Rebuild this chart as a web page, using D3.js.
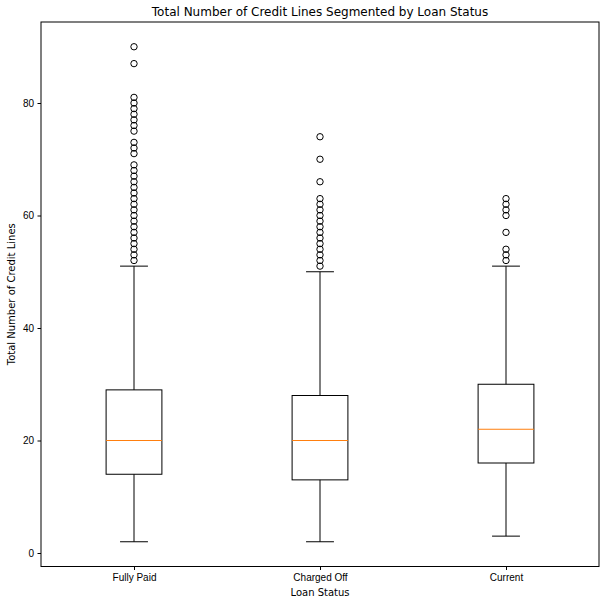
<!DOCTYPE html>
<html lang="en">
<head>
<meta charset="UTF-8" />
<title>Total Number of Credit Lines Segmented by Loan Status</title>
<script src="https://d3js.org/d3.v7.min.js"></script>
<style>
    body { margin: 0; background: #fff; }
    svg { display: block; font-family: "DejaVu Sans", sans-serif; }
    .tick text { font-size: 10px; fill: #000; }
    .tick line, .domain { stroke: #000; }
</style>
</head>
<body>
<svg width="606" height="604"></svg>
<script>
    const categories = ["Fully Paid", "Charged Off", "Current"];
    // five-number summaries: whisker low, Q1, median, Q3, whisker high
    const whiskerLow = [2, 2, 3];
    const q1 = [14, 13, 16];
    const median = [20, 20, 22];
    const q3 = [29, 28, 30];
    const whiskerHigh = [51, 50, 51];
    const outliers = [
        [52, 53, 54, 55, 56, 57, 58, 59, 60, 61, 62, 63, 64, 65, 66, 67, 68, 69,
         71, 72, 73, 75, 76, 77, 78, 79, 80, 81, 87, 90],
        [51, 52, 53, 54, 55, 56, 57, 58, 59, 60, 61, 62, 63, 66, 70, 74],
        [52, 53, 54, 57, 60, 61, 62, 63]
    ];
    const yTicks = [0, 20, 40, 60, 80];

    const svg = d3.select("svg");
    const plotLeft = 41, plotRight = 599, plotTop = 22, plotBottom = 566.5;

    const x = d3.scaleLinear().domain([0.5, 3.5]).range([plotLeft, plotRight]);
    const y = d3.scaleLinear().domain([-2.4, 94.4]).range([plotBottom, plotTop]);

    const boxW = x(1.3) - x(1);
    const capW = boxW / 2;

    // axes
    svg.append("g")
        .attr("transform", `translate(0,${plotBottom})`)
        .call(d3.axisBottom(x).tickValues([1, 2, 3]).tickFormat(d => categories[d - 1])
            .tickSizeOuter(0).tickSize(3.5).tickPadding(3.5))
        .call(g => g.select(".domain").remove());

    svg.append("g")
        .attr("transform", `translate(${plotLeft},0)`)
        .call(d3.axisLeft(y).tickValues(yTicks).tickSize(3.5).tickPadding(3.5).tickSizeOuter(0))
        .call(g => g.select(".domain").remove());

    // frame
    svg.append("rect")
        .attr("x", plotLeft).attr("y", plotTop)
        .attr("width", plotRight - plotLeft).attr("height", plotBottom - plotTop)
        .attr("fill", "none").attr("stroke", "#000").attr("stroke-width", 1);

    const boxes = svg.append("g");
    categories.forEach((c, i) => {
        const cx = x(i + 1);
        const g = boxes.append("g").attr("stroke", "#000").attr("fill", "none");
        // whiskers
        g.append("line").attr("x1", cx).attr("x2", cx).attr("y1", y(q3[i])).attr("y2", y(whiskerHigh[i]));
        g.append("line").attr("x1", cx).attr("x2", cx).attr("y1", y(q1[i])).attr("y2", y(whiskerLow[i]));
        // caps
        g.append("line").attr("x1", cx - capW / 2).attr("x2", cx + capW / 2)
            .attr("y1", y(whiskerHigh[i])).attr("y2", y(whiskerHigh[i]));
        g.append("line").attr("x1", cx - capW / 2).attr("x2", cx + capW / 2)
            .attr("y1", y(whiskerLow[i])).attr("y2", y(whiskerLow[i]));
        // box
        g.append("rect").attr("x", cx - boxW / 2).attr("width", boxW)
            .attr("y", y(q3[i])).attr("height", y(q1[i]) - y(q3[i]));
        // median
        g.append("line").attr("x1", cx - boxW / 2).attr("x2", cx + boxW / 2)
            .attr("y1", y(median[i])).attr("y2", y(median[i]))
            .attr("stroke", "#ff7f0e");
        // fliers
        g.selectAll("circle").data(outliers[i]).join("circle")
            .attr("cx", cx).attr("cy", d => y(d)).attr("r", 3.2);
    });

    // labels
    svg.append("text")
        .attr("x", (plotLeft + plotRight) / 2).attr("y", plotTop - 6)
        .attr("text-anchor", "middle").attr("font-size", 12)
        .text("Total Number of Credit Lines Segmented by Loan Status");

    svg.append("text")
        .attr("x", (plotLeft + plotRight) / 2).attr("y", 596)
        .attr("text-anchor", "middle").attr("font-size", 10)
        .text("Loan Status");

    svg.append("text")
        .attr("transform", `translate(15,${(plotTop + plotBottom) / 2}) rotate(-90)`)
        .attr("text-anchor", "middle").attr("font-size", 10)
        .text("Total Number of Credit Lines");
</script>
</body>
</html>
